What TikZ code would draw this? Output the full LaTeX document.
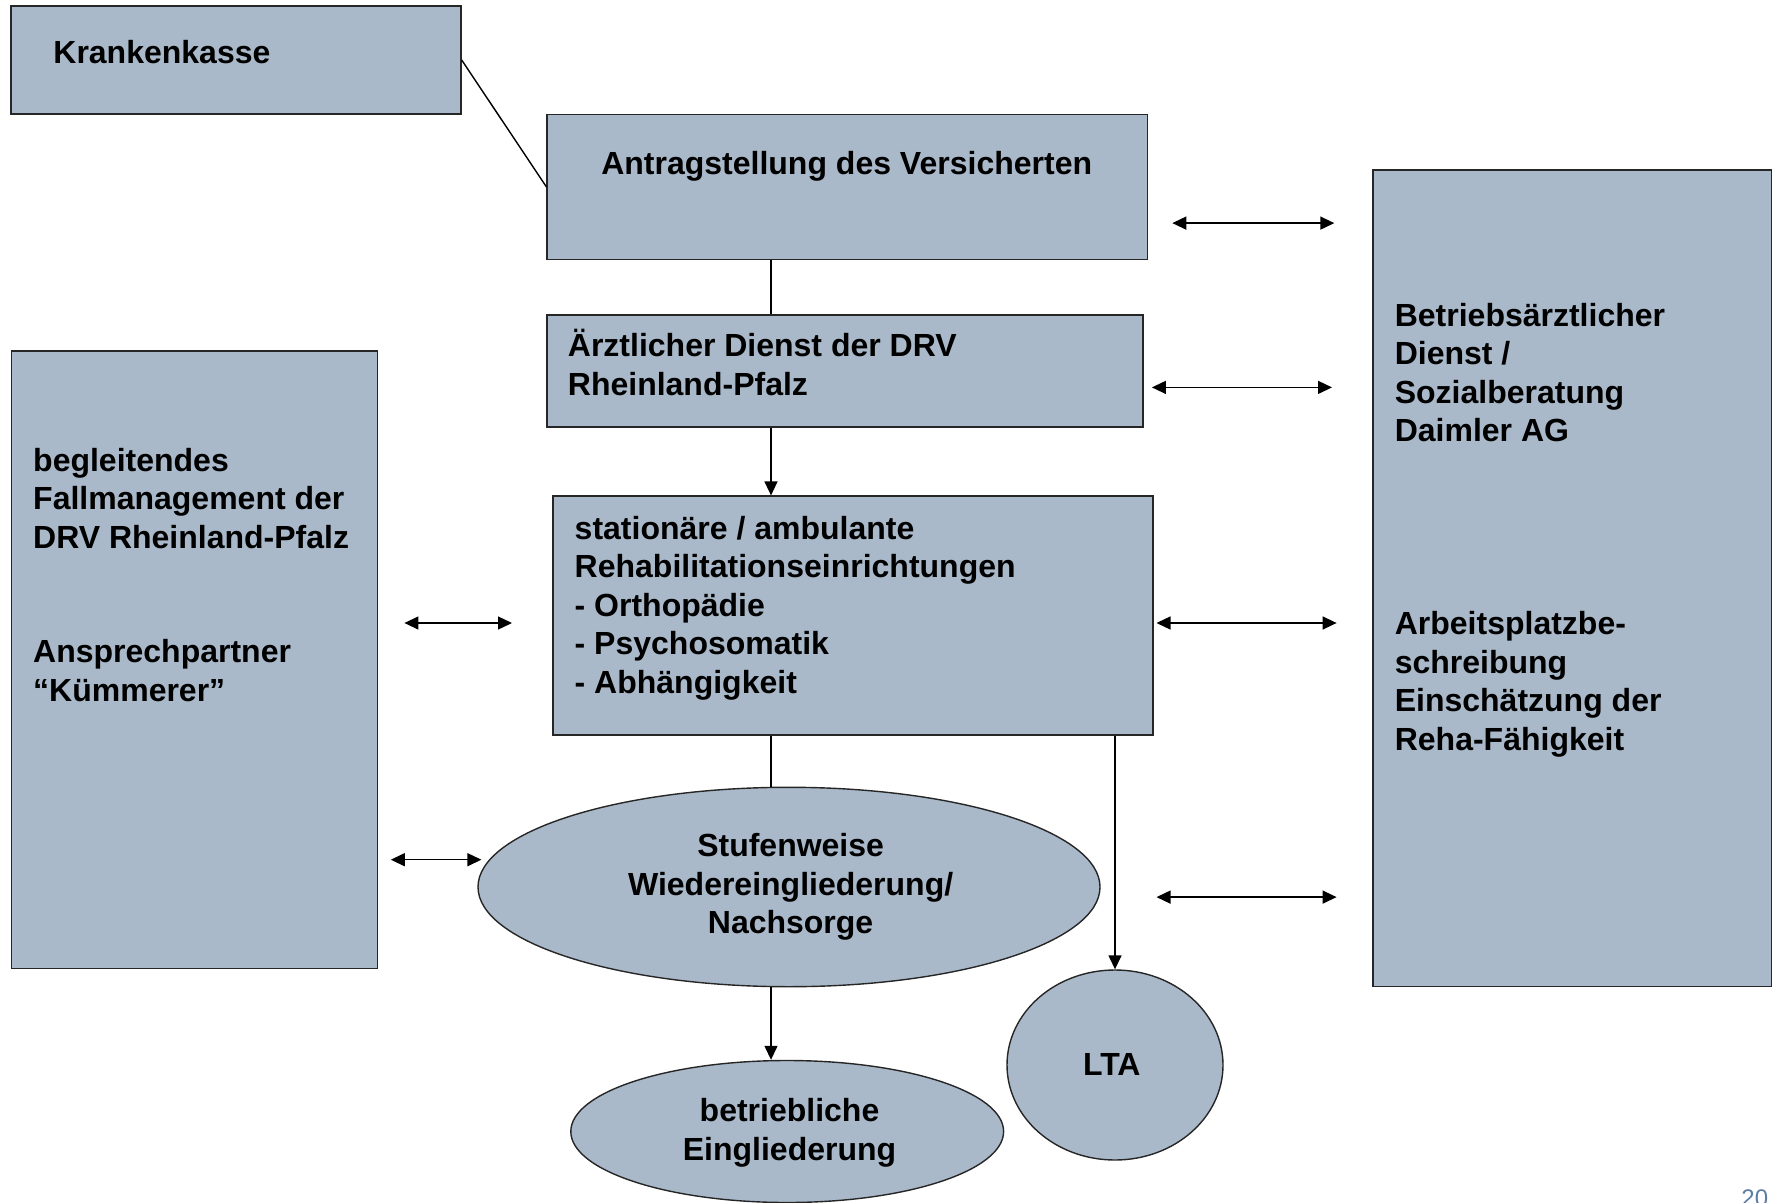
\documentclass[tikz,border=0pt]{standalone}
\usepackage{fontspec}
\setmainfont{Liberation Sans}
\usetikzlibrary{arrows.meta,fit,shapes.geometric}
\definecolor{boxfill}{RGB}{169,185,201}
\definecolor{pagenum}{RGB}{94,125,165}
\newcommand{\mlleft}[1]{\begin{tabular}[t]{@{}l@{}}#1\end{tabular}}
\newcommand{\mlcent}[1]{\begin{tabular}[t]{@{}c@{}}#1\end{tabular}}
\begin{document}
\begin{tikzpicture}[x=0.5pt,y=-0.5pt,
  box/.style={draw=black!85, line width=0.7pt, fill=boxfill, inner sep=0pt},
  oval/.style={ellipse, draw=black!85, line width=0.7pt, fill=boxfill, inner sep=0pt},
  txt/.style={font=\fontsize{16}{19.25}\selectfont\bfseries, inner sep=0pt, text=black},
  conn/.style={line width=0.7pt, draw=black},
  arr/.style={conn, -{Triangle[length=7pt,width=6.5pt]}},
  darr/.style={conn, {Triangle[length=7pt,width=6.5pt]}-{Triangle[length=7pt,width=6.5pt]}}]
\useasboundingbox (0,0) rectangle (1776,1203);
% boxes
\node[box, fit={(11,6)(461,114)}] (kk) {};
\node[box, fit={(547.1,114.4)(1147.4,259.4)}] (antrag) {};
\node[box, fit={(547.1,314.9)(1142.9,427)}] (arzt) {};
\node[box, fit={(552.8,496.1)(1153.1,735.1)}] (stat) {};
\node[box, fit={(11.3,351.1)(377.2,968.5)}] (fall) {};
\node[box, fit={(1372.8,169.9)(1771.5,986.6)}] (betriebsarzt) {};
\node[oval, minimum width=311pt, minimum height=99.7pt] (stufen) at (789,887) {};
\node[oval, minimum width=216.4pt, minimum height=71pt] (betr) at (787.2,1131.5) {};
\node[oval, minimum width=108pt, minimum height=95pt] (lta) at (1115,1065) {};
% texts
\node[txt, anchor=base west] (tkk) at (53,63.5) {Krankenkasse};
\node[txt, anchor=base] (tantrag) at (846.7,174.6) {Antragstellung des Versicherten};
\node[txt, anchor=base west] (tarzt) at (567.5,357) {\mlleft{Ärztlicher Dienst der DRV\\Rheinland-Pfalz}};
\node[txt, anchor=base west] (tstat) at (574.3,539.3) {\mlleft{stationäre / ambulante\\Rehabilitationseinrichtungen\\- Orthopädie\\- Psychosomatik\\- Abhängigkeit}};
\node[txt, anchor=base] (tstufen) at (790.6,856.5) {\mlcent{Stufenweise\\Wiedereingliederung/\\Nachsorge}};
\node[txt, anchor=base] (tbetr) at (789.5,1121.5) {\mlcent{betriebliche\\Eingliederung}};
\node[txt, anchor=base] (tlta) at (1111.8,1075) {LTA};
\node[txt, anchor=base west] (tfall1) at (32.8,471.4) {\mlleft{begleitendes\\Fallmanagement der\\DRV Rheinland-Pfalz}};
\node[txt, anchor=base west] (tfall2) at (32.8,662.8) {\mlleft{Ansprechpartner\\“Kümmerer”}};
\node[txt, anchor=base west] (tba1) at (1394.4,326.4) {\mlleft{Betriebsärztlicher\\Dienst /\\Sozialberatung\\Daimler AG}};
\node[txt, anchor=base west] (tba2) at (1394.4,634.5) {\mlleft{Arbeitsplatzbe-\\schreibung\\Einschätzung der\\Reha-Fähigkeit}};
\node[font=\fontsize{12}{14}\selectfont, text=pagenum, anchor=base west, inner sep=0pt] (pg) at (1741,1206) {20};
% connectors
\coordinate (cx) at (771,0);
\draw[conn] (kk.east) -- (antrag.west);
\draw[conn] (antrag.south -| cx) -- (arzt.north -| cx);
\draw[arr] (arzt.south -| cx) -- (stat.north -| cx);
\draw[conn] (stat.south -| cx) -- (stufen.north -| cx);
\draw[arr] (stufen.south -| cx) -- (betr.north -| cx);
\draw[arr] (stat.south -| lta.north) -- (lta.north);
% double arrows
\coordinate (a1l) at (1172.3,223.1); \coordinate (a1r) at (1334.3,223.1);
\coordinate (a2l) at (1151.9,387.4); \coordinate (a2r) at (1332,387.4);
\coordinate (a3l) at (1156.5,623); \coordinate (a3r) at (1336.6,623);
\coordinate (a4l) at (1156.5,897.1); \coordinate (a4r) at (1336.6,897.1);
\coordinate (a5l) at (404.4,623); \coordinate (a5r) at (512,623);
\coordinate (a6l) at (390.8,859.7); \coordinate (a6r) at (481.4,859.7);
\draw[darr] (a1l) -- (a1r);
\draw[darr] (a2l) -- (a2r);
\draw[darr] (a3l) -- (a3r);
\draw[darr] (a4l) -- (a4r);
\draw[darr] (a5l) -- (a5r);
\draw[darr] (a6l) -- (a6r);
\end{tikzpicture}
\end{document}
